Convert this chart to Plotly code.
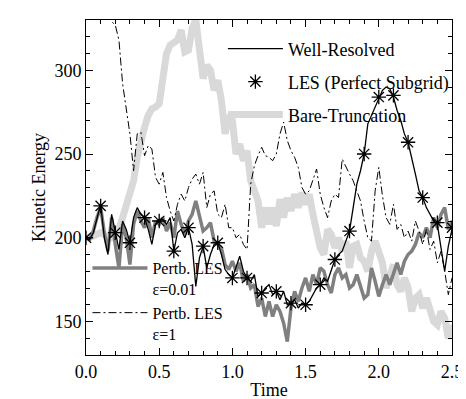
import plotly.graph_objects as go

STEP = 0.025
time = [round(i * STEP, 3) for i in range(101)]

well_resolved = [
    200, 199, 203, 212, 220, 200, 190, 214, 203, 193,
    210, 205, 197, 212, 218, 214, 212, 205, 196, 208,
    211, 211, 208, 212, 192, 203, 205, 200, 206, 196,
    171, 188, 195, 182, 190, 196, 197, 190, 181, 178,
    176, 182, 189, 180, 176, 174, 178, 165, 167, 170,
    172, 166, 168, 163, 168, 160, 161, 163, 158, 161,
    160, 162, 166, 170, 172, 176, 174, 180, 187, 190,
    192, 198, 204, 218, 232, 240, 250, 268, 273, 278,
    284, 288, 290, 289, 284, 276, 270, 262, 257, 248,
    238, 228, 224, 218, 214, 210, 208, 195, 180, 195,
    205]

les_time = [round(i * 0.1, 1) for i in range(26)]
les_perfect = [200, 219, 203, 197, 212, 210, 192, 206, 195, 197,
               176, 176, 167, 168, 161, 160, 172, 187, 204, 250,
               284, 285, 257, 224, 209, 206]

bare_truncation = [
    200, 200, 201, 202, 203, 202, 201, 200, 201, 205,
    212, 220, 228, 234, 248, 258, 266, 273, 277, 278,
    280, 295, 310, 315, 317, 318, 324, 311, 312, 325,
    330, 312, 295, 303, 300, 288, 294, 282, 262, 273,
    270, 250, 256, 246, 252, 234, 228, 222, 206, 218,
    208, 218, 207, 223, 212, 224, 216, 226, 218, 227,
    220, 226, 214, 204, 194, 190, 205, 202, 194, 200,
    192, 198, 182, 195, 196, 188, 186, 180, 192, 198,
    190, 185, 170, 178, 184, 172, 168, 176, 170, 156,
    164, 166, 158, 164, 156, 150, 148, 156, 152, 140,
    148]

pertb_001 = [
    200, 199, 204, 212, 218, 203, 192, 212, 196, 182,
    208, 200, 184, 208, 216, 210, 206, 212, 200, 210,
    208, 212, 204, 209, 200, 216, 208, 202, 210, 214,
    222, 212, 204, 206, 209, 198, 196, 194, 184, 181,
    186, 180, 185, 174, 178, 170, 172, 159, 164, 153,
    162, 153, 160, 156, 149, 138, 158, 168, 162, 170,
    176, 168, 178, 172, 182, 180, 172, 167, 178, 182,
    176, 178, 170, 172, 178, 171, 164, 166, 182, 174,
    165, 172, 178, 172, 178, 185, 178, 186, 190, 192,
    196, 203, 200, 206, 200, 212, 206, 214, 218, 205,
    210]

pertb_1 = [
    360, 355, 350, 345, 340, 336, 332, 329, 327, 318,
    292, 276, 262, 240, 262, 263, 249, 255, 253, 236,
    232, 239, 224, 216, 210, 220, 226, 222, 230, 235,
    238, 232, 239, 218, 226, 228, 214, 212, 220, 206,
    206, 200, 202, 196, 193, 232, 243, 249, 254, 249,
    248, 246, 250, 262, 269, 258, 252, 248, 242, 230,
    226, 228, 235, 241, 226, 218, 212, 222, 226, 224,
    247, 242, 238, 234, 228, 222, 210, 200, 198, 228,
    242, 225, 212, 208, 220, 205, 208, 200, 204, 198,
    210, 204, 196, 205, 193, 198, 185, 192, 180, 166,
    176]

FONT = '"Liberation Serif", "Times New Roman", Times, serif'
LIGHT = "#d9d9d9"
MID = "#808080"

fig = go.Figure()
fig.add_trace(go.Scatter(x=time, y=bare_truncation, mode="lines",
                         line=dict(color=LIGHT, width=7),
                         name="Bare-Truncation", legend="legend",
                         legendgroup="bt", legendrank=3))
fig.add_trace(go.Scatter(x=time, y=pertb_001, mode="lines",
                         line=dict(color=MID, width=3.5),
                         name="Pertb. LES<br>ε=0.01", legend="legend2",
                         legendrank=1))
fig.add_trace(go.Scatter(x=time, y=pertb_1, mode="lines",
                         line=dict(color="black", width=1, dash="8px,3px,2px,3px"),
                         name="Pertb. LES<br>ε=1", legend="legend2",
                         legendrank=2))
fig.add_trace(go.Scatter(x=time, y=well_resolved, mode="lines",
                         line=dict(color="black", width=1.3),
                         name="Well-Resolved", legend="legend",
                         legendgroup="wr", legendrank=1))
fig.add_trace(go.Scatter(x=les_time, y=les_perfect, mode="markers",
                         marker=dict(symbol="asterisk-open", size=12, color="black",
                                     line=dict(color="black", width=1.3)),
                         name="LES (Perfect Subgrid)", legend="legend",
                         legendgroup="les", legendrank=2))

axis_common = dict(showline=True, linecolor="black", linewidth=1, mirror="ticks",
                   ticks="inside", ticklen=7, tickcolor="black", showgrid=False,
                   zeroline=False, tickfont=dict(family=FONT, size=18, color="black"))

fig.update_layout(
    width=466, height=399,
    margin=dict(l=78, r=12, t=11, b=47),
    paper_bgcolor="white", plot_bgcolor="white",
    font=dict(family=FONT, size=18, color="black"),
    xaxis=dict(range=[0, 2.5], dtick=0.5, tickformat=".1f",
               minor=dict(ticks="inside", dtick=0.1, ticklen=4, tickcolor="black"),
               title=dict(text="Time", font=dict(family=FONT, size=18, color="black"), standoff=2),
               **axis_common),
    yaxis=dict(range=[130, 330], dtick=50,
               minor=dict(ticks="inside", dtick=10, ticklen=4, tickcolor="black"),
               title=dict(text="Kinetic Energy", font=dict(family=FONT, size=18, color="black"), standoff=4),
               **axis_common),
    legend=dict(x=0.374, y=0.969, xanchor="left", yanchor="top",
                bgcolor="rgba(0,0,0,0)", traceorder="grouped", tracegroupgap=6.6,
                itemwidth=55, font=dict(family=FONT, size=18, color="black")),
    legend2=dict(x=0.004, y=0.31, xanchor="left", yanchor="top",
                 bgcolor="rgba(0,0,0,0)", traceorder="normal", valign="top",
                 itemwidth=55, font=dict(family=FONT, size=16, color="black")),
    showlegend=True,
)

fig.write_html("out.html")
